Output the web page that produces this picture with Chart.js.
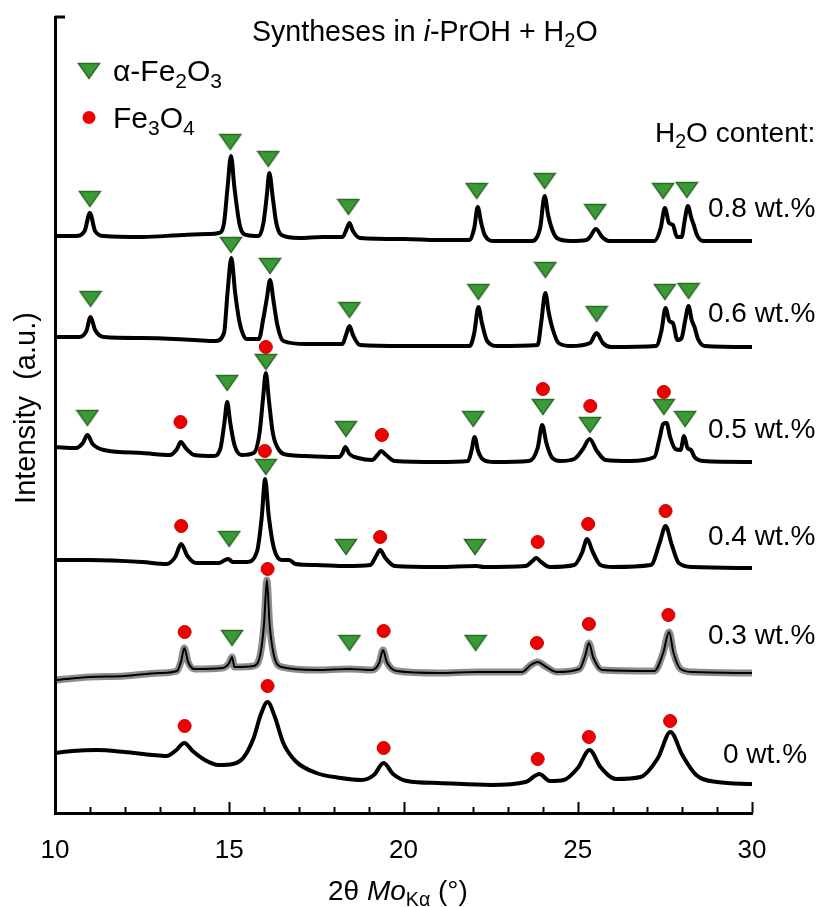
<!DOCTYPE html>
<html>
<head>
<meta charset="utf-8">
<script src="https://cdn.jsdelivr.net/npm/chart.js@4.4.0/dist/chart.umd.min.js"></script>
<style>body{margin:0;background:#fff}</style>
</head>
<body>
<canvas id="grafico" width="819" height="907"></canvas>
<script>
// eixo x (2theta) e rótulos
const xTicks = [10, 15, 20, 25, 30];
const amostras = ["0.8 wt.%", "0.6 wt.%", "0.5 wt.%", "0.4 wt.%", "0.3 wt.%", "0 wt.%"];

// difratogramas: [2theta, intensidade (u.a., com deslocamento)]
const curva08 = [[10,577],[10.6,577],[10.85,582],[11.0,600],[11.15,582],[11.4,577],[12.5,576],[13.65,578],[14.4,579],[14.7,580],[14.85,590],[14.95,625],[15.05,657],[15.15,625],[15.3,588],[15.5,578],[15.85,577],[15.98,590],[16.07,615],[16.15,640],[16.25,615],[16.35,590],[16.5,578],[17.0,575],[17.7,576],[18.25,576],[18.38,585],[18.45,590],[18.55,582],[18.75,575],[20.0,574],[21.0,573],[21.9,573],[22.03,585],[22.13,606],[22.23,590],[22.33,578],[22.6,572],[23.7,572],[23.92,585],[24.05,617],[24.15,598],[24.25,585],[24.4,575],[24.8,572],[25.25,573],[25.35,576],[25.52,584],[25.7,576],[25.9,572],[27.2,572],[27.38,585],[27.5,605],[27.62,590],[27.73,588],[27.85,576],[27.98,576],[28.08,595],[28.16,607],[28.26,595],[28.33,588],[28.42,578],[28.6,572],[30.0,572]];
const curva06 = [[10,476],[10.7,476],[10.9,482],[11.02,496],[11.15,483],[11.4,476],[12.5,475],[14.0,473],[14.6,472],[14.85,480],[14.95,520],[15.06,555],[15.17,520],[15.3,490],[15.5,474],[15.85,474],[15.98,495],[16.08,515],[16.17,533],[16.27,512],[16.38,488],[16.55,472],[17.2,469],[18.25,469],[18.35,478],[18.45,487],[18.55,478],[18.75,468],[20.0,467],[21.9,467],[22.03,480],[22.15,506],[22.25,490],[22.4,472],[22.7,467],[23.85,468],[23.95,490],[24.07,520],[24.17,500],[24.28,484],[24.45,470],[24.8,467],[25.35,470],[25.54,480],[25.72,470],[25.95,466],[27.25,467],[27.4,482],[27.52,505],[27.63,492],[27.73,490],[27.86,473],[27.98,475],[28.08,492],[28.18,507],[28.27,493],[28.35,486],[28.45,474],[28.65,467],[30.0,466]];
const curva05 = [[10,366],[10.6,365],[10.8,370],[10.93,378],[11.08,369],[11.4,363],[12.5,360],[13.3,358],[13.5,364],[13.61,371],[13.75,365],[14.0,358],[14.55,357],[14.75,365],[14.86,390],[14.94,411],[15.03,390],[15.15,368],[15.35,358],[15.7,360],[15.87,380],[15.97,415],[16.05,440],[16.14,412],[16.25,380],[16.45,362],[16.7,358],[17.2,357],[18.15,356],[18.25,360],[18.33,366],[18.45,359],[18.7,355],[19.1,353],[19.25,358],[19.36,362],[19.5,358],[19.75,352],[21.0,351],[21.85,352],[21.95,362],[22.04,376],[22.14,362],[22.3,353],[22.6,351],[23.6,352],[23.85,365],[23.98,388],[24.1,370],[24.25,356],[24.5,352],[24.9,354],[25.15,364],[25.34,374],[25.55,362],[25.8,353],[26.5,352],[27.2,356],[27.35,375],[27.45,389],[27.55,390],[27.65,376],[27.8,364],[27.95,363],[28.05,377],[28.15,365],[28.25,363],[28.35,356],[28.6,352],[30.0,351]];
const curva04 = [[10,253],[11.0,253],[12.5,251],[13.2,249],[13.45,256],[13.62,269],[13.8,257],[14.05,250],[14.7,250],[14.88,253],[14.97,254],[15.1,251],[15.5,251],[15.8,262],[15.93,295],[16.03,334],[16.13,298],[16.28,265],[16.5,253],[16.72,253],[16.9,249],[17.5,248],[18.35,247],[19.05,248],[19.2,256],[19.33,263],[19.48,255],[19.75,247],[21.0,246],[22.1,247],[22.3,246],[23.5,247],[23.7,252],[23.81,255],[23.95,251],[24.2,246],[24.9,248],[25.12,260],[25.27,274],[25.42,262],[25.65,248],[26.0,246],[27.1,248],[27.35,270],[27.52,287],[27.7,268],[27.9,250],[28.3,246],[30.0,245]];
const curva03 = [[10,133],[11.0,136],[12.0,137],[13.0,140],[13.5,142],[13.62,152],[13.71,165],[13.82,151],[14.0,144],[14.8,145],[15.0,150],[15.08,156],[15.15,146],[15.7,147],[15.9,160],[16.0,190],[16.08,233],[16.16,188],[16.28,158],[16.5,146],[17.5,143],[18.45,144],[19.1,143],[19.3,150],[19.41,163],[19.52,151],[19.8,142],[21.0,140],[22.1,141],[23.4,141],[23.65,148],[23.85,151],[24.1,146],[24.4,141],[25.05,144],[25.22,158],[25.32,170],[25.45,155],[25.7,143],[27.2,142],[27.45,160],[27.62,181],[27.75,160],[27.95,144],[28.3,141],[30.0,140]];
const curva00 = [[10,60],[10.5,62],[11.2,63],[12.0,61],[12.8,58],[13.2,57],[13.45,62],[13.71,70],[13.95,62],[14.3,53],[14.7,48],[15.1,49],[15.4,55],[15.7,75],[15.9,98],[16.1,111],[16.3,97],[16.55,70],[16.9,52],[17.5,40],[18.2,35],[18.8,33],[19.15,38],[19.43,50],[19.7,39],[20.1,32],[21.0,30],[22.5,28],[23.5,31],[23.9,39],[24.2,32],[24.6,33],[25.0,45],[25.34,63],[25.65,46],[26.1,34],[26.8,36],[27.3,55],[27.66,81],[28.0,58],[28.4,38],[29.0,31],[30.0,29]];

// marcadores de fase: alfa-Fe2O3 (triângulos) e Fe3O4 (círculos)
const hematita08 = [[11.0,614],[15.03,671],[16.12,654],[18.42,606],[22.1,622],[24.05,632],[25.5,601],[27.45,622],[28.13,623]];
const hematita06 = [[11.02,514],[15.05,568],[16.17,547],[18.45,503],[22.15,521],[24.07,543],[25.54,499],[27.5,521],[28.18,522]];
const hematita05 = [[10.93,395],[14.94,430],[16.05,451],[18.35,384],[22.0,394],[24.0,406],[25.35,388],[27.47,406],[28.08,394]];
const hematita04 = [[15.0,274],[16.05,346],[18.35,266],[22.05,266]];
const hematita03 = [[15.08,175],[18.45,170],[22.07,170]];
const magnetita05 = [[13.6,391],[16.05,466],[19.38,378],[24.0,424],[25.36,407],[27.47,421]];
const magnetita04 = [[13.62,287],[16.02,362],[19.33,276],[23.85,271],[25.3,289],[27.52,302]];
const magnetita03 = [[13.72,181],[16.1,244],[19.43,182],[23.83,170],[25.32,189],[27.6,198]];
const magnetita00 = [[13.72,87],[16.1,127],[19.43,65],[23.85,54],[25.32,76],[27.65,92]];

const FONTE = '"Liberation Sans", Arial, sans-serif';
const VERDE = "#3a9a35";
const VERDE_BORDA = "#2d6b29";
const VERMELHO = "#ee0000";

const triangulo = document.createElement("canvas");
triangulo.width = 24;
triangulo.height = 18;
(function () {
    const c = triangulo.getContext("2d");
    c.beginPath();
    c.moveTo(1.5, 1.5);
    c.lineTo(22.5, 1.5);
    c.lineTo(12, 16.5);
    c.closePath();
    c.fillStyle = VERDE;
    c.fill();
    c.lineWidth = 1.5;
    c.strokeStyle = VERDE_BORDA;
    c.stroke();
})();

const pts = (arr) => arr.map((p) => ({ x: p[0], y: p[1] }));

function linha(arr, largura, cor) {
    return {
        type: "line",
        data: pts(arr),
        borderColor: cor || "#000",
        borderWidth: largura,
        pointRadius: 0,
        fill: false,
        cubicInterpolationMode: "monotone",
        borderJoinStyle: "round",
        borderCapStyle: "round",
        order: 2,
    };
}

const datasets = [
    {
        type: "scatter",
        data: pts([].concat(hematita08, hematita06, hematita05, hematita04, hematita03)),
        pointStyle: triangulo,
        pointRadius: 11,
        order: 0,
    },
    {
        type: "scatter",
        data: pts([].concat(magnetita05, magnetita04, magnetita03, magnetita00)),
        pointStyle: "circle",
        pointRadius: 6.5,
        backgroundColor: VERMELHO,
        borderColor: "#c40000",
        borderWidth: 1,
        order: 0,
    },
    linha(curva08, 4),
    linha(curva06, 4),
    linha(curva05, 4),
    linha(curva04, 4),
    linha(curva03, 7, "rgba(0,0,0,0.45)"),
    linha(curva03, 2),
    linha(curva00, 4),
];

function escrever(ctx, partes, x, y, tam) {
    let cx = x;
    for (const p of partes) {
        const s = p.sub ? tam * 0.7 : tam;
        ctx.font = (p.it ? "italic " : "") + s + "px " + FONTE;
        ctx.fillText(p.t, cx, y + (p.sub ? tam * 0.22 : 0));
        cx += ctx.measureText(p.t).width;
    }
}

const textos = {
    id: "textos",
    afterDraw(chart) {
        const ctx = chart.ctx;
        const x = chart.scales.x;
        const area = chart.chartArea;
        ctx.save();
        ctx.fillStyle = "#000";
        ctx.strokeStyle = "#000";

        // marcas internas do eixo x
        ctx.lineWidth = 2;
        for (let v = 11; v <= 30; v++) {
            const px = Math.round(x.getPixelForValue(v)) + 0.5;
            const len = v % 5 === 0 ? 11 : 6;
            ctx.beginPath();
            ctx.moveTo(px, area.bottom);
            ctx.lineTo(px, area.bottom - len);
            ctx.stroke();
        }
        // marca no topo do eixo y
        ctx.lineWidth = 3;
        ctx.beginPath();
        ctx.moveTo(area.left, area.top);
        ctx.lineTo(area.left + 10, area.top);
        ctx.stroke();

        ctx.textAlign = "left";
        ctx.textBaseline = "alphabetic";

        escrever(ctx, [{ t: "Syntheses in " }, { t: "i", it: true }, { t: "-PrOH + H" }, { t: "2", sub: true }, { t: "O" }], 252, 41, 28.6);

        // legenda
        ctx.drawImage(triangulo, 89 - 12, 71 - 9);
        escrever(ctx, [{ t: "α-Fe" }, { t: "2", sub: true }, { t: "O" }, { t: "3", sub: true }], 113, 81, 30);
        ctx.beginPath();
        ctx.arc(89, 117.5, 6.5, 0, Math.PI * 2);
        ctx.fillStyle = VERMELHO;
        ctx.fill();
        ctx.fillStyle = "#000";
        escrever(ctx, [{ t: "Fe" }, { t: "3", sub: true }, { t: "O" }, { t: "4", sub: true }], 113, 128, 30);

        escrever(ctx, [{ t: "H" }, { t: "2", sub: true }, { t: "O content:" }], 655, 142, 28);

        const linhasBase = [217, 322, 438, 545, 644, 763];
        amostras.forEach((txt, i) => {
            escrever(ctx, [{ t: txt }], i === 5 ? 723 : 708, linhasBase[i], 28);
        });

        // título do eixo x
        escrever(ctx, [{ t: "2θ " }, { t: "Mo", it: true }, { t: "Kα", sub: true }, { t: " (°)" }], 328, 900, 28);

        // título do eixo y
        ctx.translate(27, 408);
        ctx.rotate(-Math.PI / 2);
        ctx.textAlign = "center";
        ctx.textBaseline = "middle";
        ctx.font = "29px " + FONTE;
        ctx.fillText("Intensity  (a.u.)", 0, 0);
        ctx.restore();
    },
};

const ctxGrafico = document.getElementById("grafico").getContext("2d");
new Chart(ctxGrafico, {
    data: { datasets: datasets },
    options: {
        responsive: false,
        animation: false,
        layout: { padding: { top: 17, right: 67, left: 0, bottom: 0 } },
        plugins: { legend: { display: false }, tooltip: { enabled: false } },
        scales: {
            x: {
                type: "linear",
                min: 10,
                max: 30,
                afterFit: (s) => { s.height = 94; },
                afterBuildTicks: (s) => { s.ticks = xTicks.map((v) => ({ value: v })); },
                grid: { display: false, drawTicks: false },
                border: { display: true, color: "#000", width: 3 },
                ticks: { color: "#000", font: { family: FONTE, size: 26 }, padding: 22, maxRotation: 0, autoSkip: false },
            },
            y: {
                type: "linear",
                min: 0,
                max: 796,
                afterFit: (s) => { s.width = 55; },
                grid: { display: false, drawTicks: false },
                border: { display: true, color: "#000", width: 3 },
                ticks: { display: false },
            },
        },
    },
    plugins: [textos],
});
</script>
</body>
</html>
